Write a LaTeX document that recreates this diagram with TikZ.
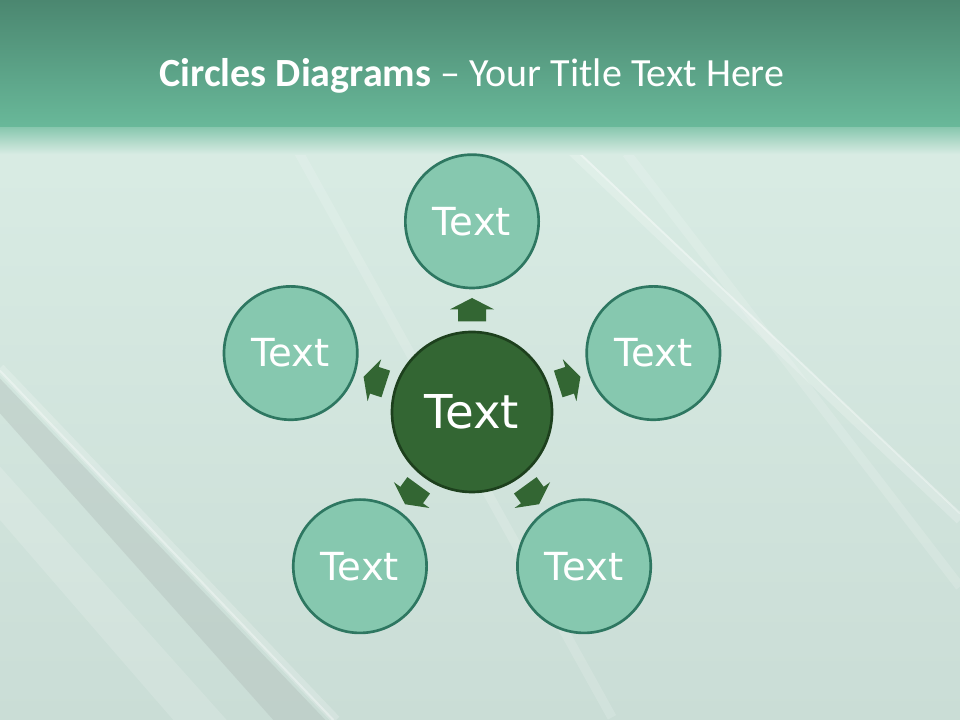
\documentclass[tikz,border=0pt]{standalone}
\usepackage{fontspec}
\setmainfont{DejaVu Sans}
\newfontfamily\titlefont{Carlito}
\usepackage{tikz}

\definecolor{headtop}{HTML}{4B8770}
\definecolor{headbot}{HTML}{69B99A}
\definecolor{bgtop}{HTML}{D9ECE4}
\definecolor{bgbot}{HTML}{CADDD6}
\definecolor{leaffill}{HTML}{86C8AF}
\definecolor{leafline}{HTML}{2E7761}
\definecolor{hubfill}{HTML}{336633}
\definecolor{hubline}{HTML}{1D401D}

\begin{document}
\begin{tikzpicture}[x=1pt,y=1pt,
  leaf/.style={circle,fill=leaffill,draw=leafline,line width=2pt,minimum size=100pt,
    inner sep=0pt,text=white,font=\fontsize{29}{34}\selectfont},
  hub/.style={circle,fill=hubfill,draw=hubline,line width=2pt,minimum size=120pt,
    inner sep=0pt,text=white,font=\fontsize{35}{40}\selectfont},
  streak/.style={white,opacity=0.2,line width=7pt},
  glint/.style={white,opacity=0.35,line width=1.5pt}]
\useasboundingbox (0,0) rectangle (720,540);
\clip (0,0) rectangle (720,540);

% background
\shade[top color=bgtop,bottom color=bgbot] (0,0) rectangle (720,444);
\fill[gray!40!bgbot,opacity=0.35] (0,256) -- (0,230) -- (205,0) -- (244,0) -- cycle;
\fill[white,opacity=0.15] (0,190) -- (0,150) -- (130,0) -- (170,0) -- cycle;
\draw[streak] (0,264) -- (252,0);
\draw[glint] (0,262) -- (250,0);
\draw[streak,opacity=0.15] (220,433) -- (459,2);
\draw[streak] (420,435) -- (720,150);
\draw[glint] (424,435) -- (720,155);
\draw[streak,opacity=0.15] (470,425) -- (720,100);

% header
\shade[top color=headtop,bottom color=headbot] (0,444) rectangle (720,540);
\shade[top color=headbot!70!bgtop,bottom color=bgtop] (0,424) rectangle (720,444);
\node[anchor=base,text=white,font=\titlefont\fontsize{30}{36}\selectfont] (title) at (354,475)
  {\textbf{Circles Diagrams} – Your Title Text Here};

\node[hub] (hub) at (354,231) {Text};
\node[leaf] (top) at ([shift={(90:143pt)}]hub.center) {Text};
\node[leaf] (right) at ([shift={(18:143pt)}]hub.center) {Text};
\node[leaf] (lowright) at ([shift={(-54:143pt)}]hub.center) {Text};
\node[leaf] (lowleft) at ([shift={(-126:143pt)}]hub.center) {Text};
\node[leaf] (left) at ([shift={(162:143pt)}]hub.center) {Text};

\foreach \a in {90,18,-54,-126,162}{
  \fill[hubfill,shift={(hub.center)},rotate=\a-90]
    (-10.5,68) -- (10.5,68) -- (10.5,77) -- (16.5,77) -- (0,85.5)
    -- (-16.5,77) -- (-10.5,77) -- cycle;
}

\end{tikzpicture}
\end{document}
